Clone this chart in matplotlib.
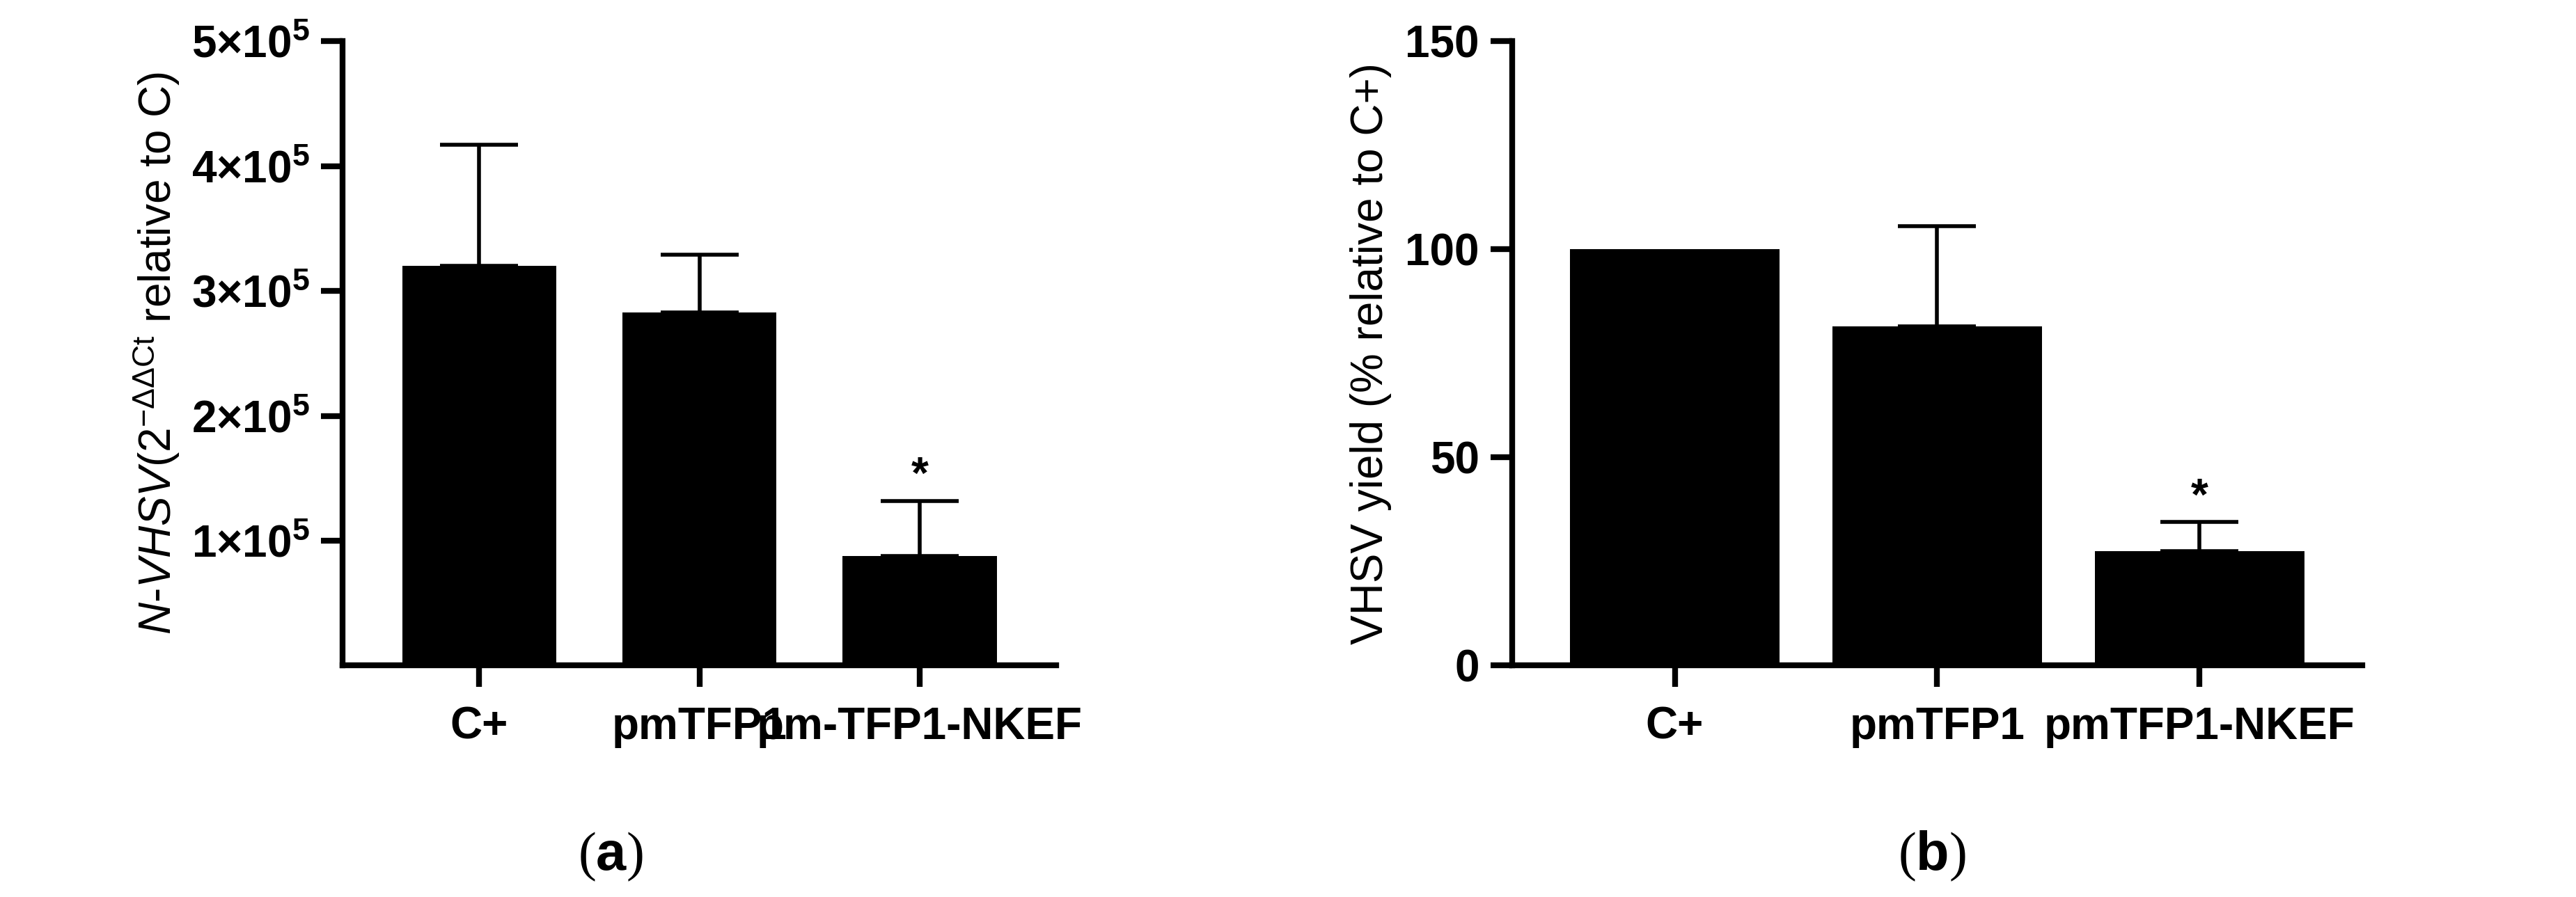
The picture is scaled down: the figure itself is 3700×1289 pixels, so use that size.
import matplotlib
matplotlib.use("Agg")
import matplotlib.pyplot as plt
import numpy as np

plt.rcParams['font.family'] = ['Liberation Sans', 'DejaVu Sans']
plt.rcParams['mathtext.fontset'] = 'custom'
plt.rcParams['mathtext.rm'] = 'Liberation Sans'
plt.rcParams['mathtext.it'] = 'Liberation Sans:italic'
plt.rcParams['mathtext.bf'] = 'Liberation Sans:bold'

# panel (a)
cats_a = ["C+", "pmTFP1", "pm-TFP1-NKEF"]
vals_a = [3.2e5, 2.83e5, 0.88e5]
err_a = [0.97e5, 0.46e5, 0.44e5]
star_a = [False, False, True]
yticks_a = [1e5, 2e5, 3e5, 4e5, 5e5]
yticklabels_a = [r"$\mathbf{%d{\times}10^{5}}$" % i for i in range(1, 6)]

# panel (b)
cats_b = ["C+", "pmTFP1", "pmTFP1-NKEF"]
vals_b = [100, 81.5, 27.5]
err_b = [0, 24, 7]
star_b = [False, False, True]
yticks_b = [0, 50, 100, 150]

fig = plt.figure(figsize=(37, 12.89), dpi=100)
ax1 = fig.add_axes([0.133, 0.258, 0.277, 0.696])
ax2 = fig.add_axes([0.587, 0.258, 0.33, 0.696])

LW = 6
FS = 46


def style(ax, cats, vals, errs, stars, ymax):
    x = np.arange(len(cats))
    w = 0.7 if ax is ax1 else 0.8
    ax.bar(x, vals, width=w, color="black", zorder=2)
    for xi, v, e, s in zip(x, vals, errs, stars):
        if e > 0:
            ax.errorbar(xi, v, yerr=[[0], [e]], color="black", capsize=40,
                        elinewidth=4, capthick=4, zorder=1)
        if s:
            ax.text(xi, v + e + ymax * 0.005, "*", ha="center", va="bottom",
                    fontsize=FS, fontweight="bold")
    ax.set_xticks(x)
    ax.set_xticklabels(cats, fontsize=FS, fontweight="bold")
    ax.set_xlim(-0.62, 2.62)
    ax.set_ylim(0, ymax)
    for sp in ["top", "right"]:
        ax.spines[sp].set_visible(False)
    for sp in ["left", "bottom"]:
        ax.spines[sp].set_linewidth(LW)
    ax.tick_params(width=LW, length=22, labelsize=FS, pad=12)
    ax.tick_params(axis="x", pad=20)


style(ax1, cats_a, vals_a, err_a, star_a, 5e5)
ax1.set_yticks(yticks_a)
ax1.set_yticklabels(yticklabels_a, fontsize=FS)
ax1.set_ylabel(r"$N$-$VHSV$(2$^{-\Delta\Delta\mathrm{Ct}}$ relative to C)", fontsize=FS, labelpad=10)

style(ax2, cats_b, vals_b, err_b, star_b, 150)
ax2.set_yticks(yticks_b)
for t in ax2.get_yticklabels():
    t.set_fontweight("bold")
ax2.set_ylabel("VHSV yield (% relative to C+)", fontsize=FS, labelpad=14)

fig.text(0.237, 0.03, r"($\mathbf{a}$)", fontsize=56, family="Liberation Serif", ha="center")
fig.text(0.75, 0.03, r"($\mathbf{b}$)", fontsize=56, family="Liberation Serif", ha="center")

fig.savefig("out.png", dpi=100)
